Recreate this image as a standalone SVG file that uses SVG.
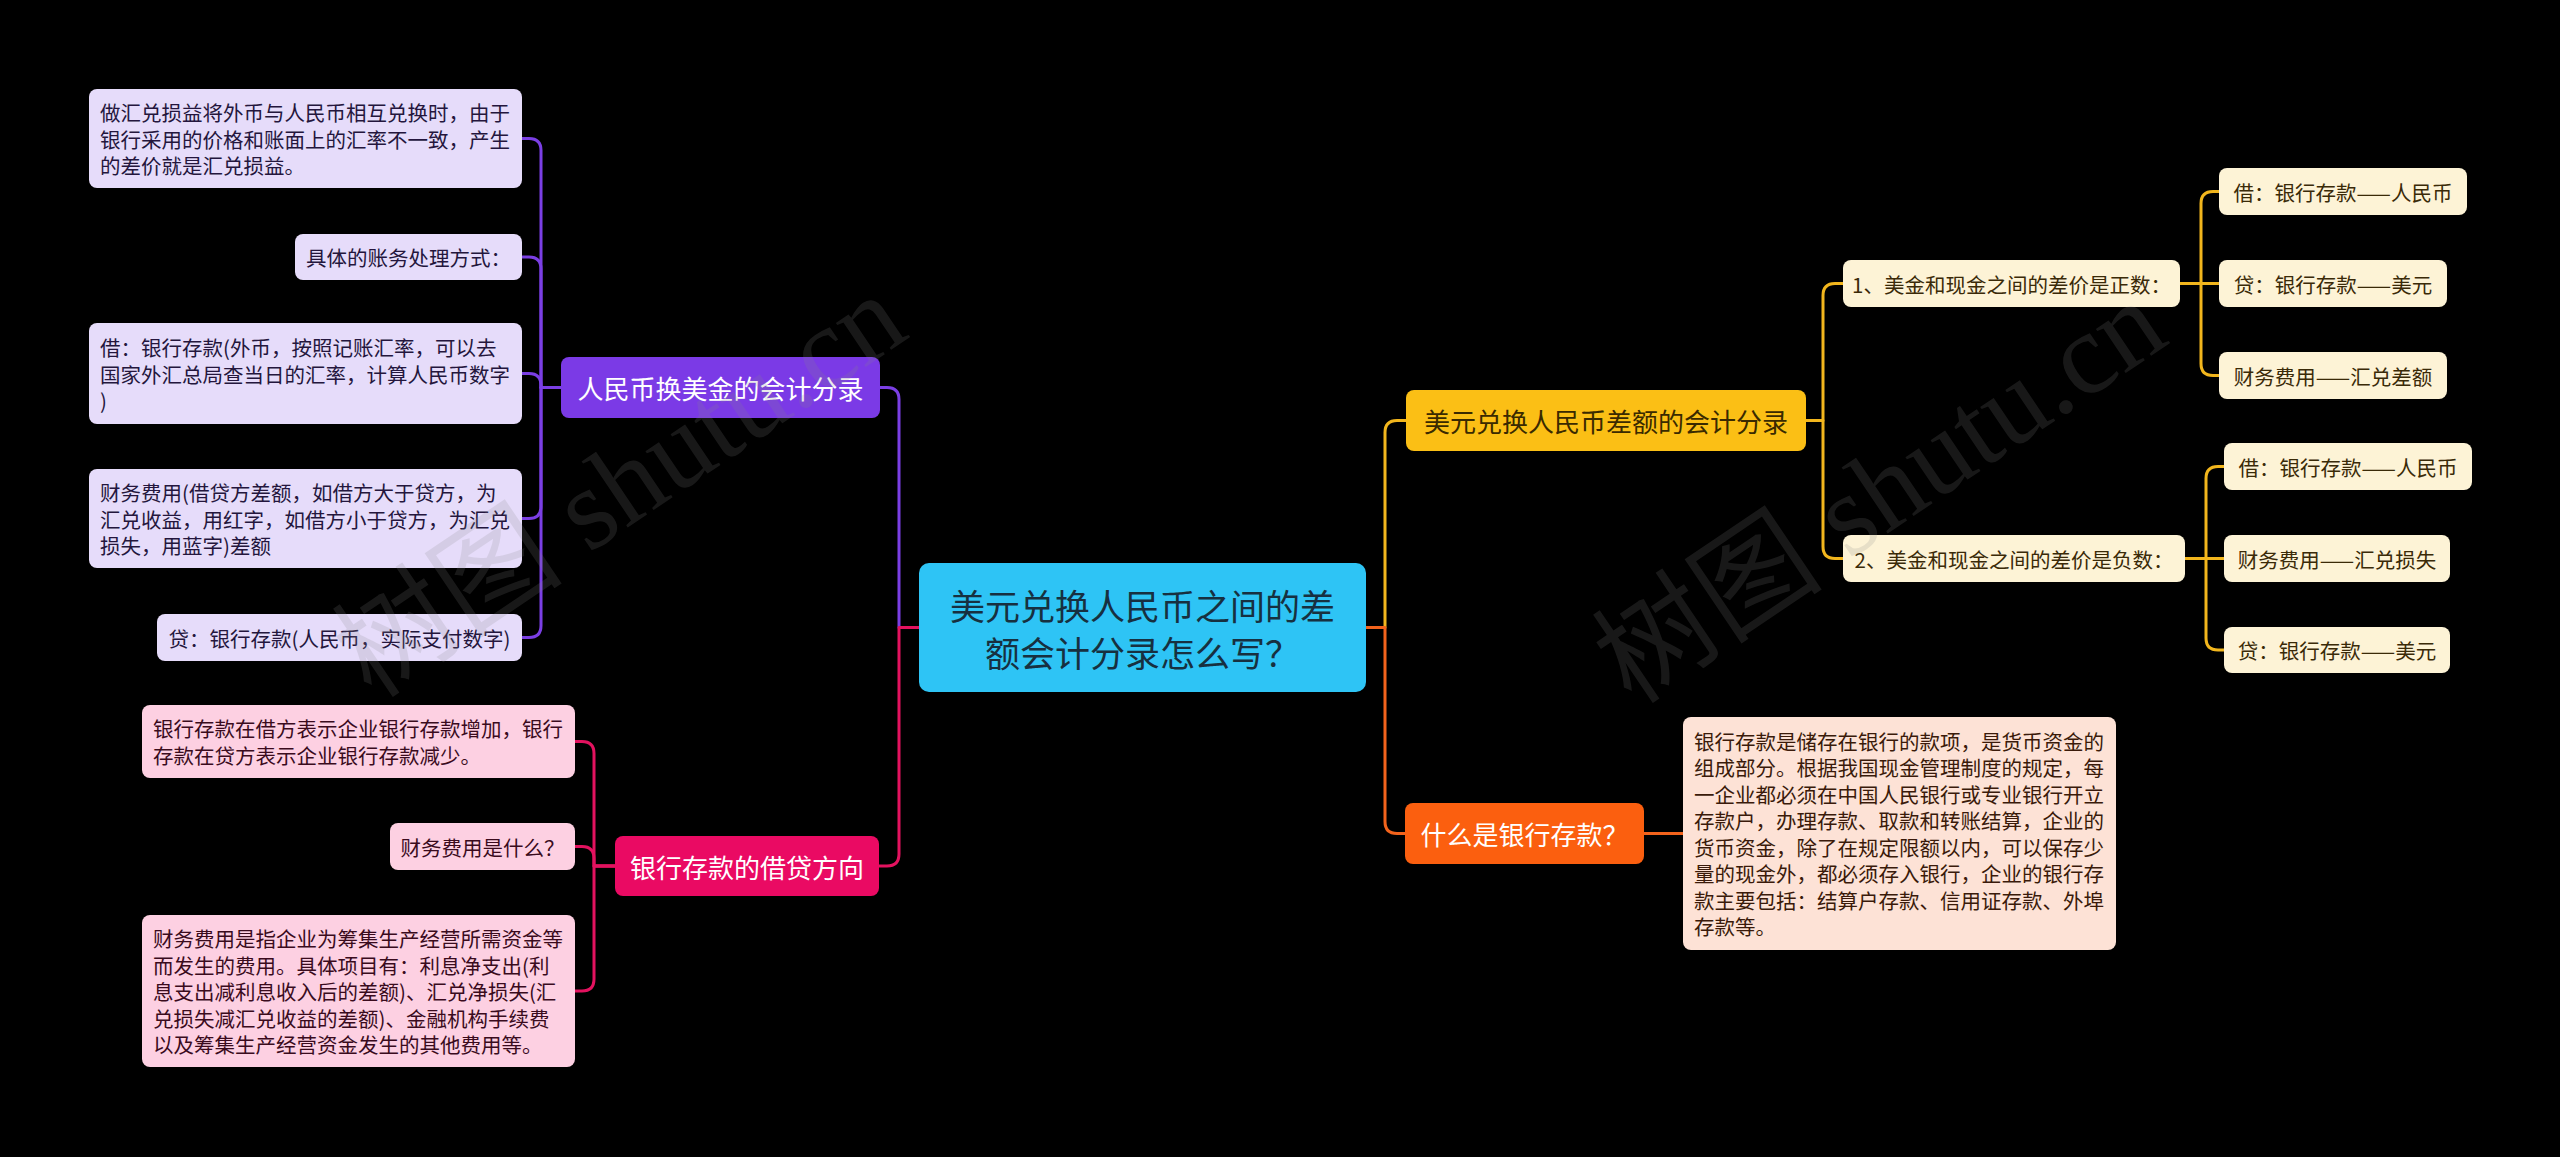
<svg xmlns="http://www.w3.org/2000/svg" width="2560" height="1157" viewBox="0 0 2560 1157">
<style>
text{font-family:"Noto Sans CJK SC","Noto Sans",sans-serif;dominant-baseline:central}
.leaf{font-size:20.5px}
.br{font-size:26px;text-anchor:middle}
.mid{text-anchor:middle}
.c{fill:none;stroke-width:3;stroke-linecap:round;stroke-linejoin:round}
.pu{stroke:#7b3fe4}.pk{stroke:#e3125f}.ye{stroke:#f2b61d}.or{stroke:#f2631c}
.lp{fill:#e6dcfa}.tp{fill:#24163d}
.lk{fill:#fdd0e2}.tk{fill:#3a0b1d}
.ly{fill:#fdf3d6}.ty{fill:#3a2a08}
.lo{fill:#fde2d6}.to{fill:#3a1a0a}
.wm{fill:#888;opacity:0.18;font-size:116px}
</style>
<rect width="2560" height="1157" fill="#000"/>
<g id="connectors">
<path class="c pu" d="M919 627.5H899V399.5Q899 387.5 887 387.5H880"/>
<path class="c pk" d="M919 627.5H899V854Q899 866 887 866H879"/>
<path class="c ye" d="M1366 627.5H1385V432.5Q1385 420.5 1397 420.5H1406"/>
<path class="c or" d="M1366 627.5H1385V821.5Q1385 833.5 1397 833.5H1405"/>
<path class="c pu" d="M561 387.5H541V150.5Q541 138.5 529 138.5H522"/>
<path class="c pu" d="M561 387.5H541V269Q541 257 529 257H522"/>
<path class="c pu" d="M561 387.5H541V385.5Q541 373.5 529 373.5H522"/>
<path class="c pu" d="M561 387.5H541V506.5Q541 518.5 529 518.5H522"/>
<path class="c pu" d="M561 387.5H541V625.5Q541 637.5 529 637.5H522"/>
<path class="c pk" d="M615 866H594V753.5Q594 741.5 582 741.5H575"/>
<path class="c pk" d="M615 866H594V858.5Q594 846.5 582 846.5H575"/>
<path class="c pk" d="M615 866H594V979Q594 991 582 991H575"/>
<path class="c ye" d="M1806 420.5H1823V295.5Q1823 283.5 1835 283.5H1843"/>
<path class="c ye" d="M1806 420.5H1823V546.5Q1823 558.5 1835 558.5H1843"/>
<path class="c ye" d="M2180 283.5H2201V203.5Q2201 191.5 2213 191.5H2219"/>
<path class="c ye" d="M2180 283.5H2219"/>
<path class="c ye" d="M2180 283.5H2201V363.5Q2201 375.5 2213 375.5H2219"/>
<path class="c ye" d="M2185 558.5H2206V478.5Q2206 466.5 2218 466.5H2224"/>
<path class="c ye" d="M2185 558.5H2224"/>
<path class="c ye" d="M2185 558.5H2206V638Q2206 650 2218 650H2224"/>
<path class="c or" d="M1644 833.5H1683"/>
</g>
<g id="center">
<rect x="919" y="563" width="447" height="129" rx="10" fill="#2ec4f5"/>
<text class="mid" x="1142.5" y="604" font-size="35" fill="#173040">美元兑换人民币之间的差</text>
<text class="mid" x="1142.5" y="651" font-size="35" fill="#173040">额会计分录怎么写？</text>
</g>
<g id="b-purple">
<rect x="561" y="357" width="319" height="61" rx="8" fill="#7b3ae6"/>
<text class="br" x="720.5" y="387.5" fill="#fff">人民币换美金的会计分录</text>
</g>
<g id="p1">
<rect class="lp" x="89" y="89" width="433" height="99" rx="8"/>
<text class="leaf tp" x="100" y="112">做汇兑损益将外币与人民币相互兑换时，由于</text>
<text class="leaf tp" x="100" y="138.5">银行采用的价格和账面上的汇率不一致，产生</text>
<text class="leaf tp" x="100" y="165">的差价就是汇兑损益。</text>
</g>
<g id="p2">
<rect class="lp" x="295" y="234" width="227" height="46" rx="8"/>
<text class="leaf tp mid" x="408.5" y="257">具体的账务处理方式：</text>
</g>
<g id="p3">
<rect class="lp" x="89" y="323" width="433" height="101" rx="8"/>
<text class="leaf tp" x="100" y="347">借：银行存款(外币，按照记账汇率，可以去</text>
<text class="leaf tp" x="100" y="373.5">国家外汇总局查当日的汇率，计算人民币数字</text>
<text class="leaf tp" x="100" y="400">)</text>
</g>
<g id="p4">
<rect class="lp" x="89" y="469" width="433" height="99" rx="8"/>
<text class="leaf tp" x="100" y="492">财务费用(借贷方差额，如借方大于贷方，为</text>
<text class="leaf tp" x="100" y="518.5">汇兑收益，用红字，如借方小于贷方，为汇兑</text>
<text class="leaf tp" x="100" y="545">损失，用蓝字)差额</text>
</g>
<g id="p5">
<rect class="lp" x="157" y="614" width="365" height="47" rx="8"/>
<text class="leaf tp mid" x="339.5" y="637.5">贷：银行存款(人民币，实际支付数字)</text>
</g>
<g id="b-pink">
<rect x="615" y="836" width="264" height="60" rx="8" fill="#ea0a63"/>
<text class="br" x="747" y="866" fill="#fff">银行存款的借贷方向</text>
</g>
<g id="k1">
<rect class="lk" x="142" y="705" width="433" height="73" rx="8"/>
<text class="leaf tk" x="153" y="728.25">银行存款在借方表示企业银行存款增加，银行</text>
<text class="leaf tk" x="153" y="754.75">存款在贷方表示企业银行存款减少。</text>
</g>
<g id="k2">
<rect class="lk" x="390" y="823" width="185" height="47" rx="8"/>
<text class="leaf tk mid" x="482.5" y="846.5">财务费用是什么？</text>
</g>
<g id="k3">
<rect class="lk" x="142" y="915" width="433" height="152" rx="8"/>
<text class="leaf tk" x="153" y="938">财务费用是指企业为筹集生产经营所需资金等</text>
<text class="leaf tk" x="153" y="964.5">而发生的费用。具体项目有：利息净支出(利</text>
<text class="leaf tk" x="153" y="991">息支出减利息收入后的差额)、汇兑净损失(汇</text>
<text class="leaf tk" x="153" y="1017.5">兑损失减汇兑收益的差额)、金融机构手续费</text>
<text class="leaf tk" x="153" y="1044">以及筹集生产经营资金发生的其他费用等。</text>
</g>
<g id="b-yellow">
<rect x="1406" y="390" width="400" height="61" rx="8" fill="#fbbf15"/>
<text class="br" x="1606" y="420.5" fill="#3a2a00">美元兑换人民币差额的会计分录</text>
</g>
<g id="y1">
<rect class="ly" x="1843" y="260" width="337" height="47" rx="8"/>
<text class="leaf ty mid" x="2011.5" y="283.5">1、美金和现金之间的差价是正数：</text>
</g>
<g id="y1a">
<rect class="ly" x="2219" y="168" width="248" height="47" rx="8"/>
<text class="leaf ty mid" x="2343" y="191.5">借：银行存款——人民币</text>
</g>
<g id="y1b">
<rect class="ly" x="2219" y="260" width="228" height="47" rx="8"/>
<text class="leaf ty mid" x="2333" y="283.5">贷：银行存款——美元</text>
</g>
<g id="y1c">
<rect class="ly" x="2219" y="352" width="228" height="47" rx="8"/>
<text class="leaf ty mid" x="2333" y="375.5">财务费用——汇兑差额</text>
</g>
<g id="y2">
<rect class="ly" x="1843" y="535" width="342" height="47" rx="8"/>
<text class="leaf ty mid" x="2014" y="558.5">2、美金和现金之间的差价是负数：</text>
</g>
<g id="y2a">
<rect class="ly" x="2224" y="443" width="248" height="47" rx="8"/>
<text class="leaf ty mid" x="2348" y="466.5">借：银行存款——人民币</text>
</g>
<g id="y2b">
<rect class="ly" x="2224" y="535" width="226" height="47" rx="8"/>
<text class="leaf ty mid" x="2337" y="558.5">财务费用——汇兑损失</text>
</g>
<g id="y2c">
<rect class="ly" x="2224" y="627" width="226" height="46" rx="8"/>
<text class="leaf ty mid" x="2337" y="650">贷：银行存款——美元</text>
</g>
<g id="b-orange">
<rect x="1405" y="803" width="239" height="61" rx="8" fill="#fb5f0f"/>
<text class="br" x="1524.5" y="833.5" fill="#fff">什么是银行存款？</text>
</g>
<g id="o1">
<rect class="lo" x="1683" y="717" width="433" height="233" rx="8"/>
<text class="leaf to" x="1694" y="740.75">银行存款是储存在银行的款项，是货币资金的</text>
<text class="leaf to" x="1694" y="767.25">组成部分。根据我国现金管理制度的规定，每</text>
<text class="leaf to" x="1694" y="793.75">一企业都必须在中国人民银行或专业银行开立</text>
<text class="leaf to" x="1694" y="820.25">存款户，办理存款、取款和转账结算，企业的</text>
<text class="leaf to" x="1694" y="846.75">货币资金，除了在规定限额以内，可以保存少</text>
<text class="leaf to" x="1694" y="873.25">量的现金外，都必须存入银行，企业的银行存</text>
<text class="leaf to" x="1694" y="899.75">款主要包括：结算户存款、信用证存款、外埠</text>
<text class="leaf to" x="1694" y="926.25">存款等。</text>
</g>
<g id="watermark">
<text class="wm" x="0" y="0" transform="translate(372 700) rotate(-34)" style="dominant-baseline:auto"><tspan>树图</tspan><tspan font-family="Liberation Serif,serif"> shutu.cn</tspan></text>
<text class="wm" x="0" y="0" transform="translate(1632 706) rotate(-34)" style="dominant-baseline:auto"><tspan>树图</tspan><tspan font-family="Liberation Serif,serif"> shutu.cn</tspan></text>
</g>
</svg>
